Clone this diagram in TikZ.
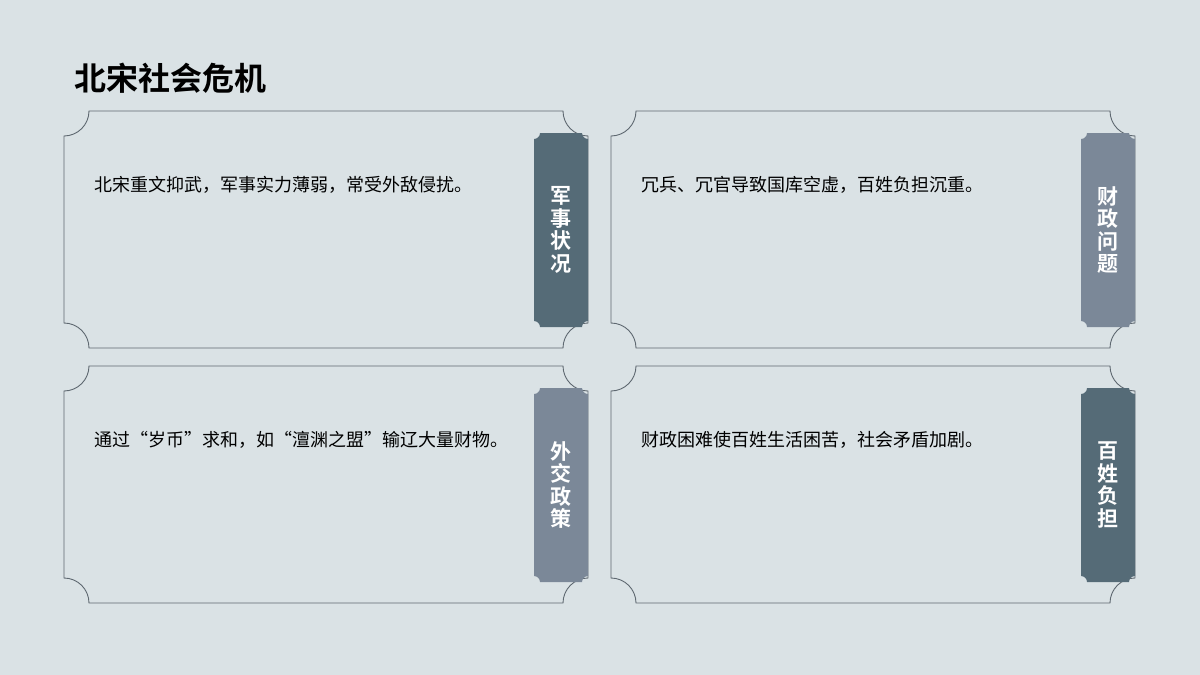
\documentclass[tikz,border=0pt]{standalone}
\usepackage{fontspec}
\setmainfont{Noto Sans CJK SC}
\newfontfamily\cjkb{Noto Sans CJK SC Bold}
\definecolor{bg}{HTML}{DAE2E5}
\definecolor{edge}{HTML}{5E6870}
\definecolor{tabdark}{HTML}{556B77}
\definecolor{tablight}{HTML}{7B8898}
\tikzset{cardline/.style={draw=edge,line width=0.9pt,fill=bg},
 body/.style={anchor=west,font=\fontsize{18}{20}\selectfont,text=black},
 tablbl/.style={text=white,font=\cjkb\fontsize{21}{22.5}\selectfont,align=center,text width=24pt}}
\newcommand{\mycard}[6]{%
 \pgfmathsetmacro{\xa}{#1}\pgfmathsetmacro{\ya}{#2}
 \pgfmathsetmacro{\xb}{#1+524}\pgfmathsetmacro{\yb}{#2+237}
 \def\r{25}
 \path[cardline] (\xa+\r,\ya) -- (\xb-\r,\ya) .. controls (\xb-\r,\ya+0.55*\r) and (\xb-0.55*\r,\ya+\r) .. (\xb,\ya+\r)
  -- (\xb,\yb-\r) .. controls (\xb-0.55*\r,\yb-\r) and (\xb-\r,\yb-0.55*\r) .. (\xb-\r,\yb)
  -- (\xa+\r,\yb) .. controls (\xa+\r,\yb-0.55*\r) and (\xa+0.55*\r,\yb-\r) .. (\xa,\yb-\r)
  -- (\xa,\ya+\r) .. controls (\xa+0.55*\r,\ya+\r) and (\xa+\r,\ya+0.55*\r) .. (\xa+\r,\ya) -- cycle;
 \pgfmathsetmacro{\ta}{#1+470}\pgfmathsetmacro{\tb}{#1+524}
 \pgfmathsetmacro{\tya}{#2+22}\pgfmathsetmacro{\tyb}{#2+216}
 \def\s{6}
 \fill[#3] (\ta+\s,\tya) -- (\tb-\s,\tya) .. controls (\tb-\s,\tya+0.55*\s) and (\tb-0.55*\s,\tya+\s) .. (\tb,\tya+\s)
  -- (\tb,\tyb-\s) .. controls (\tb-0.55*\s,\tyb-\s) and (\tb-\s,\tyb-0.55*\s) .. (\tb-\s,\tyb)
  -- (\ta+\s,\tyb) .. controls (\ta+\s,\tyb-0.55*\s) and (\ta+0.55*\s,\tyb-\s) .. (\ta,\tyb-\s)
  -- (\ta,\tya+\s) .. controls (\ta+0.55*\s,\tya+\s) and (\ta+\s,\tya+0.55*\s) .. (\ta+\s,\tya) -- cycle;
 \node[body] (#6t) at (#1+27,#2+74) {#4};
 \node[tablbl] (#6l) at (#1+497,#2+119) {#5};
}
\begin{document}
\begin{tikzpicture}[x=1pt,y=-1pt]
\fill[bg] (0,0) rectangle (1200,675);
\useasboundingbox (0,0) rectangle (1200,675);
\node[anchor=west,font=\cjkb\fontsize{32}{36}\selectfont,inner sep=0pt] (title) at (74,78) {北宋社会危机};
\mycard{64}{111}{tabdark}{北宋重文抑武，军事实力薄弱，常受外敌侵扰。}{军\\事\\状\\况}{a}
\mycard{611}{111}{tablight}{冗兵、冗官导致国库空虚，百姓负担沉重。}{财\\政\\问\\题}{b}
\mycard{64}{366}{tablight}{通过“岁币”求和，如“澶渊之盟”输辽大量财物。}{外\\交\\政\\策}{c}
\mycard{611}{366}{tabdark}{财政困难使百姓生活困苦，社会矛盾加剧。}{百\\姓\\负\\担}{d}
\end{tikzpicture}
\end{document}
